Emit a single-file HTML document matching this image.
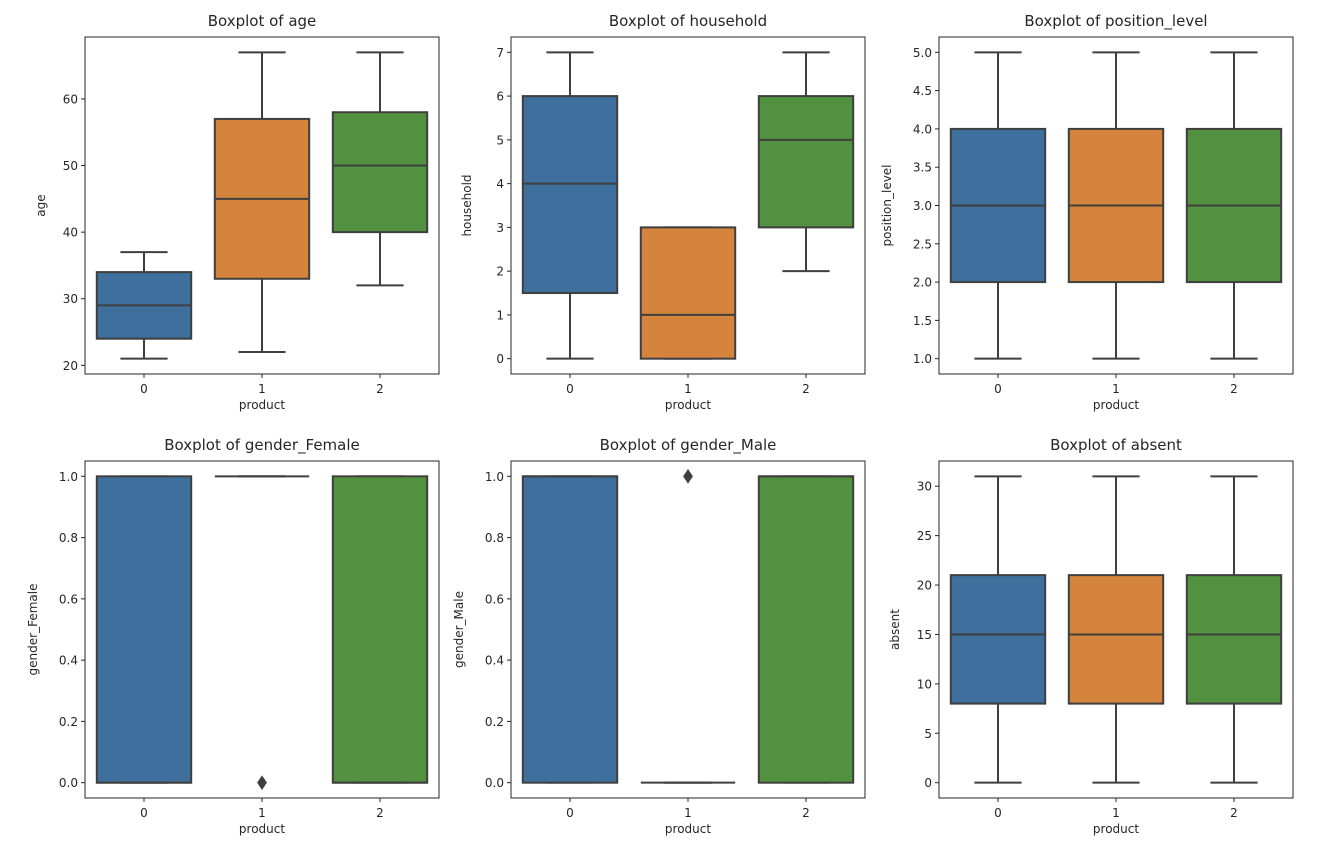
<!DOCTYPE html>
<html><head><meta charset="utf-8"><style>
body{margin:0;background:#fff;}
svg text{font-family:"DejaVu Sans","Liberation Sans",sans-serif;fill:#262626;}
</style></head><body>
<svg id="fig" width="1334" height="862" xmlns="http://www.w3.org/2000/svg"></svg>
<script>
const categories = ["0","1","2"];
const titles = ["age","household","position_level","gender_Female","gender_Male","absent"];
// [whiskerLow, q1, median, q3, whiskerHigh] per product
const ageStats = [[21,24,29,34,37],[22,33,45,57,67],[32,40,50,58,67]];
const householdStats = [[0,1.5,4,6,7],[0,0,1,3,3],[2,3,5,6,7]];
const positionStats = [[1,2,3,4,5],[1,2,3,4,5],[1,2,3,4,5]];
const femaleStats = [[0,0,0,1,1],[1,1,1,1,1],[0,0,0,1,1]];
const maleStats = [[0,0,1,1,1],[0,0,0,0,0],[0,0,1,1,1]];
const absentStats = [[0,8,15,21,31],[0,8,15,21,31],[0,8,15,21,31]];
const femaleOutliers = [[],[0],[]];
const maleOutliers = [[],[1],[]];
const noOutliers = [[],[],[]];
const ageTicks = [20,30,40,50,60];
const householdTicks = [0,1,2,3,4,5,6,7];
const positionTicks = [1.0,1.5,2.0,2.5,3.0,3.5,4.0,4.5,5.0];
const genderTicks = [0.0,0.2,0.4,0.6,0.8,1.0];
const absentTicks = [0,5,10,15,20,25,30];
const colors = ["#3f6f9c","#d5843e","#52913f"];

const panels = [
 {stats:ageStats,out:noOutliers,ticks:ageTicks,dec:0},
 {stats:householdStats,out:noOutliers,ticks:householdTicks,dec:0},
 {stats:positionStats,out:noOutliers,ticks:positionTicks,dec:1},
 {stats:femaleStats,out:femaleOutliers,ticks:genderTicks,dec:1},
 {stats:maleStats,out:maleOutliers,ticks:genderTicks,dec:1},
 {stats:absentStats,out:noOutliers,ticks:absentTicks,dec:0}
];
const svg = document.getElementById('fig');
const NS = "http://www.w3.org/2000/svg";
function mk(tag, attrs, parent){const e=document.createElementNS(NS,tag);for(const k in attrs)e.setAttribute(k,attrs[k]);(parent||svg).appendChild(e);return e;}
const W=354,H=337,lefts=[85,511,939],tops=[37,461];
panels.forEach((p,i)=>{
  const L=lefts[i%3],T=tops[Math.floor(i/3)];
  const g=mk('g',{});
  
  
  let mn=Infinity,mx=-Infinity;
  p.stats.forEach((s,j)=>{mn=Math.min(mn,s[0]);mx=Math.max(mx,s[4]);p.out[j].forEach(v=>{mn=Math.min(mn,v);mx=Math.max(mx,v);});});
  const pad=(mx-mn)*0.05, y0=mn-pad, y1=mx+pad;
  const y=v=>T+H-(v-y0)/(y1-y0)*H;
  const x=c=>L+(c+0.5)/3*W;
  const bw=0.8/3*W;
  p.stats.forEach((s,j)=>{
    const cx=x(j);
    const bg=mk('g',{},g);
    
    
    const ln={stroke:'#3f3f3f','stroke-width':2};
    mk('line',Object.assign({x1:cx,x2:cx,y1:y(s[0]),y2:y(s[1])},ln),bg);
    mk('line',Object.assign({x1:cx,x2:cx,y1:y(s[3]),y2:y(s[4])},ln),bg);
    mk('line',Object.assign({x1:cx-bw/4,x2:cx+bw/4,y1:y(s[0]),y2:y(s[0])},ln),bg);
    mk('line',Object.assign({x1:cx-bw/4,x2:cx+bw/4,y1:y(s[4]),y2:y(s[4])},ln),bg);
    mk('rect',{x:cx-bw/2,y:y(s[3]),width:bw,height:Math.max(0,y(s[1])-y(s[3])),fill:colors[j],stroke:'#3f3f3f','stroke-width':2},bg);
    mk('line',Object.assign({x1:cx-bw/2,x2:cx+bw/2,y1:y(s[2]),y2:y(s[2])},ln),bg);
    p.out[j].forEach(v=>{
      const d=mk('path',{d:`M${cx} ${y(v)-6}L${cx+4} ${y(v)}L${cx} ${y(v)+6}L${cx-4} ${y(v)}Z`,fill:'#3f3f3f',stroke:'#3f3f3f','stroke-width':1.5},bg);
      
      
    });
  });
  const fr=mk('rect',{x:L,y:T,width:W,height:H,fill:'none',stroke:'#262626','stroke-width':1},g);
  
  
  p.ticks.forEach(t=>{
    mk('line',{x1:L-4,x2:L,y1:y(t),y2:y(t),stroke:'#262626'},g);
    const tx=mk('text',{x:L-7,y:y(t)+4.5,'font-size':12,'text-anchor':'end'},g);
    tx.textContent=t.toFixed(p.dec);
    
    
  });
  categories.forEach((c,j)=>{
    mk('line',{x1:x(j),x2:x(j),y1:T+H,y2:T+H+4,stroke:'#262626'},g);
    const tx=mk('text',{x:x(j),y:T+H+19,'font-size':12,'text-anchor':'middle'},g);
    tx.textContent=c;
    
    
  });
  const xl=mk('text',{x:L+W/2,y:T+H+35,'font-size':12,'text-anchor':'middle'},g);
  xl.textContent='product';
  
  
  const lx=L-(p.dec?48:40), ly=T+H/2;
  const yl=mk('text',{x:lx,y:ly,'font-size':12,'text-anchor':'middle',transform:`rotate(-90 ${lx} ${ly})`},g);
  yl.textContent=titles[i];
  
  
  const tt=mk('text',{x:L+W/2,y:T-11,'font-size':15,'text-anchor':'middle'},g);
  tt.textContent='Boxplot of '+titles[i];
  
  
});
</script>
</body></html>
